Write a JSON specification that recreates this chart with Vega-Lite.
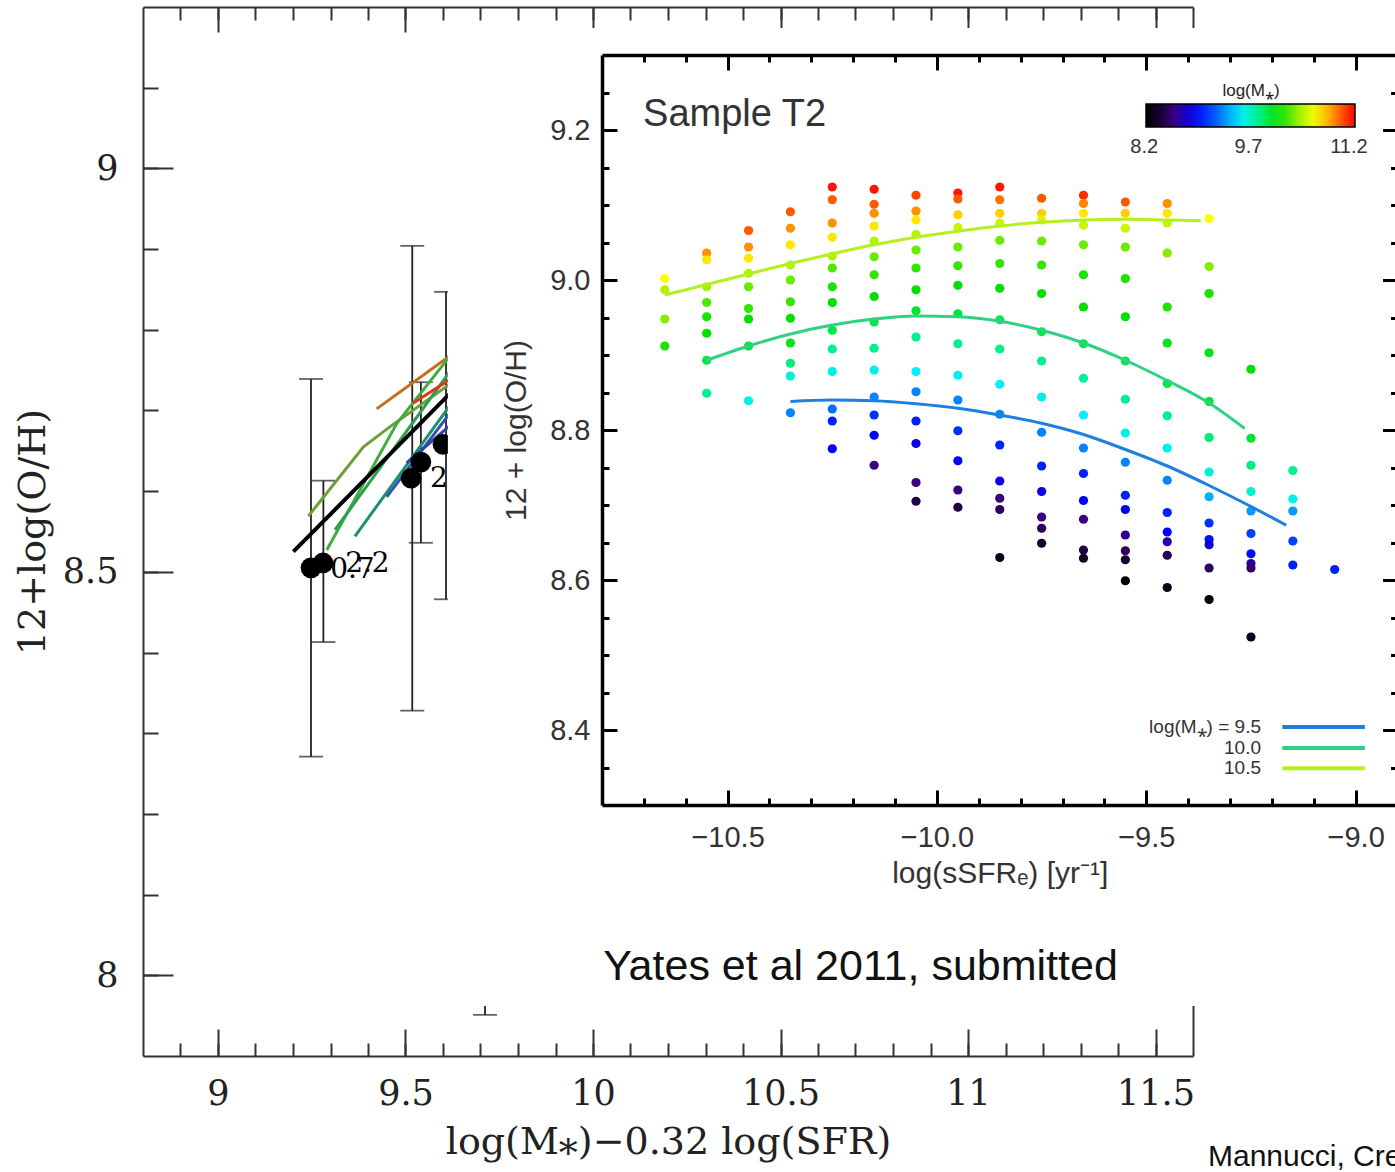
{
  "$schema": "https://vega.github.io/schema/vega-lite/v6.json",
  "width": 1050,
  "height": 1049,
  "autosize": "none",
  "padding": {"left": 143, "top": 7, "right": 202, "bottom": 116},
  "background": "white",
  "config": {
    "view": {"stroke": null},
    "axis": {"grid": false, "labelFlush": false, "labelOverlap": false},
    "legend": {"padding": 0}
  },
  "resolve": {
    "scale": {"x": "independent", "y": "independent", "color": "independent"},
    "axis": {"x": "independent", "y": "independent"}
  },
  "datasets": {
    "eb": [
      {"x": 9.248, "lo": 8.271, "hi": 8.739},
      {"x": 9.281, "lo": 8.413, "hi": 8.613},
      {"x": 9.518, "lo": 8.328, "hi": 8.904},
      {"x": 9.541, "lo": 8.536, "hi": 8.735},
      {"x": 9.608, "lo": 8.466, "hi": 8.847},
      {"x": 9.712, "lo": 7.951, "hi": 8.9}
    ],
    "op": [
      {"x": 9.248, "y": 8.505},
      {"x": 9.28, "y": 8.511},
      {"x": 9.515, "y": 8.616},
      {"x": 9.541, "y": 8.636},
      {"x": 9.6, "y": 8.658}
    ],
    "otr": [
      {"t": "orange", "x": 9.423, "y": 8.702}, {"t": "orange", "x": 9.64, "y": 8.775},
      {"t": "olive", "x": 9.241, "y": 8.569}, {"t": "olive", "x": 9.388, "y": 8.655}, {"t": "olive", "x": 9.459, "y": 8.68}, {"t": "olive", "x": 9.64, "y": 8.74},
      {"t": "green1", "x": 9.29, "y": 8.527}, {"t": "green1", "x": 9.477, "y": 8.684}, {"t": "green1", "x": 9.64, "y": 8.78},
      {"t": "green2", "x": 9.312, "y": 8.552}, {"t": "green2", "x": 9.64, "y": 8.762},
      {"t": "teal", "x": 9.365, "y": 8.544}, {"t": "teal", "x": 9.64, "y": 8.72},
      {"t": "blue1", "x": 9.45, "y": 8.593}, {"t": "blue1", "x": 9.64, "y": 8.71},
      {"t": "blue2", "x": 9.503, "y": 8.635}, {"t": "blue2", "x": 9.64, "y": 8.69},
      {"t": "red", "x": 9.52, "y": 8.709}, {"t": "red", "x": 9.64, "y": 8.745}
    ],
    "oblack": [
      {"x": 9.201, "y": 8.525}, {"x": 9.64, "y": 8.731}
    ],
    "ip": [
      {"s": -10.65, "z": 9.002, "m": 10.65}, {"s": -10.65, "z": 8.987, "m": 10.45}, {"s": -10.65, "z": 8.948, "m": 10.35}, {"s": -10.65, "z": 8.912, "m": 10.15},
      {"s": -10.55, "z": 9.036, "m": 10.88}, {"s": -10.55, "z": 9.027, "m": 10.7}, {"s": -10.55, "z": 8.991, "m": 10.4}, {"s": -10.55, "z": 8.97, "m": 10.25}, {"s": -10.55, "z": 8.951, "m": 10.15}, {"s": -10.55, "z": 8.929, "m": 10.1}, {"s": -10.55, "z": 8.893, "m": 9.95}, {"s": -10.55, "z": 8.849, "m": 9.8},
      {"s": -10.45, "z": 9.066, "m": 11.0}, {"s": -10.45, "z": 9.044, "m": 10.88}, {"s": -10.45, "z": 9.029, "m": 10.7}, {"s": -10.45, "z": 9.009, "m": 10.45}, {"s": -10.45, "z": 8.991, "m": 10.3}, {"s": -10.45, "z": 8.962, "m": 10.2}, {"s": -10.45, "z": 8.948, "m": 10.1}, {"s": -10.45, "z": 8.912, "m": 10.0}, {"s": -10.45, "z": 8.839, "m": 9.6},
      {"s": -10.35, "z": 9.091, "m": 11.0}, {"s": -10.35, "z": 9.069, "m": 10.88}, {"s": -10.35, "z": 9.047, "m": 10.7}, {"s": -10.35, "z": 9.02, "m": 10.45}, {"s": -10.35, "z": 9.0, "m": 10.3}, {"s": -10.35, "z": 8.971, "m": 10.2}, {"s": -10.35, "z": 8.949, "m": 10.1}, {"s": -10.35, "z": 8.916, "m": 10.05}, {"s": -10.35, "z": 8.889, "m": 9.85}, {"s": -10.35, "z": 8.872, "m": 9.65}, {"s": -10.35, "z": 8.823, "m": 9.3},
      {"s": -10.25, "z": 9.124, "m": 11.15}, {"s": -10.25, "z": 9.107, "m": 11.0}, {"s": -10.25, "z": 9.076, "m": 10.88}, {"s": -10.25, "z": 9.057, "m": 10.7}, {"s": -10.25, "z": 9.032, "m": 10.45}, {"s": -10.25, "z": 9.016, "m": 10.25}, {"s": -10.25, "z": 8.991, "m": 10.15}, {"s": -10.25, "z": 8.97, "m": 10.1}, {"s": -10.25, "z": 8.933, "m": 9.95}, {"s": -10.25, "z": 8.908, "m": 9.8}, {"s": -10.25, "z": 8.878, "m": 9.6}, {"s": -10.25, "z": 8.828, "m": 9.25}, {"s": -10.25, "z": 8.812, "m": 9.0}, {"s": -10.25, "z": 8.775, "m": 8.9},
      {"s": -10.15, "z": 9.121, "m": 11.15}, {"s": -10.15, "z": 9.101, "m": 11.0}, {"s": -10.15, "z": 9.089, "m": 10.88}, {"s": -10.15, "z": 9.072, "m": 10.7}, {"s": -10.15, "z": 9.052, "m": 10.45}, {"s": -10.15, "z": 9.031, "m": 10.3}, {"s": -10.15, "z": 9.007, "m": 10.2}, {"s": -10.15, "z": 8.978, "m": 10.1}, {"s": -10.15, "z": 8.944, "m": 9.95}, {"s": -10.15, "z": 8.909, "m": 9.8}, {"s": -10.15, "z": 8.88, "m": 9.6}, {"s": -10.15, "z": 8.844, "m": 9.3}, {"s": -10.15, "z": 8.82, "m": 9.05}, {"s": -10.15, "z": 8.793, "m": 8.9}, {"s": -10.15, "z": 8.753, "m": 8.6},
      {"s": -10.05, "z": 9.113, "m": 11.05}, {"s": -10.05, "z": 9.092, "m": 10.88}, {"s": -10.05, "z": 9.08, "m": 10.7}, {"s": -10.05, "z": 9.061, "m": 10.45}, {"s": -10.05, "z": 9.04, "m": 10.3}, {"s": -10.05, "z": 9.016, "m": 10.2}, {"s": -10.05, "z": 8.987, "m": 10.1}, {"s": -10.05, "z": 8.959, "m": 10.0}, {"s": -10.05, "z": 8.924, "m": 9.8}, {"s": -10.05, "z": 8.878, "m": 9.55}, {"s": -10.05, "z": 8.851, "m": 9.3}, {"s": -10.05, "z": 8.812, "m": 9.0}, {"s": -10.05, "z": 8.782, "m": 8.85}, {"s": -10.05, "z": 8.73, "m": 8.6}, {"s": -10.05, "z": 8.705, "m": 8.45},
      {"s": -9.95, "z": 9.116, "m": 11.15}, {"s": -9.95, "z": 9.108, "m": 11.0}, {"s": -9.95, "z": 9.087, "m": 10.75}, {"s": -9.95, "z": 9.07, "m": 10.5}, {"s": -9.95, "z": 9.044, "m": 10.3}, {"s": -9.95, "z": 9.019, "m": 10.2}, {"s": -9.95, "z": 8.993, "m": 10.1}, {"s": -9.95, "z": 8.955, "m": 10.0}, {"s": -9.95, "z": 8.915, "m": 9.8}, {"s": -9.95, "z": 8.873, "m": 9.6}, {"s": -9.95, "z": 8.84, "m": 9.3}, {"s": -9.95, "z": 8.799, "m": 9.05}, {"s": -9.95, "z": 8.759, "m": 8.9}, {"s": -9.95, "z": 8.72, "m": 8.6}, {"s": -9.95, "z": 8.697, "m": 8.45},
      {"s": -9.85, "z": 9.124, "m": 11.15}, {"s": -9.85, "z": 9.107, "m": 10.95}, {"s": -9.85, "z": 9.089, "m": 10.75}, {"s": -9.85, "z": 9.076, "m": 10.5}, {"s": -9.85, "z": 9.053, "m": 10.3}, {"s": -9.85, "z": 9.022, "m": 10.2}, {"s": -9.85, "z": 8.989, "m": 10.1}, {"s": -9.85, "z": 8.947, "m": 9.95}, {"s": -9.85, "z": 8.908, "m": 9.8}, {"s": -9.85, "z": 8.861, "m": 9.55}, {"s": -9.85, "z": 8.821, "m": 9.3}, {"s": -9.85, "z": 8.78, "m": 9.0}, {"s": -9.85, "z": 8.732, "m": 8.85}, {"s": -9.85, "z": 8.709, "m": 8.6}, {"s": -9.85, "z": 8.694, "m": 8.5}, {"s": -9.85, "z": 8.63, "m": 8.3},
      {"s": -9.75, "z": 9.109, "m": 11.0}, {"s": -9.75, "z": 9.089, "m": 10.75}, {"s": -9.75, "z": 9.08, "m": 10.55}, {"s": -9.75, "z": 9.052, "m": 10.3}, {"s": -9.75, "z": 9.02, "m": 10.2}, {"s": -9.75, "z": 8.982, "m": 10.1}, {"s": -9.75, "z": 8.931, "m": 9.95}, {"s": -9.75, "z": 8.892, "m": 9.8}, {"s": -9.75, "z": 8.844, "m": 9.6}, {"s": -9.75, "z": 8.797, "m": 9.3}, {"s": -9.75, "z": 8.752, "m": 9.0}, {"s": -9.75, "z": 8.718, "m": 8.85}, {"s": -9.75, "z": 8.684, "m": 8.6}, {"s": -9.75, "z": 8.669, "m": 8.5}, {"s": -9.75, "z": 8.649, "m": 8.35},
      {"s": -9.65, "z": 9.113, "m": 11.1}, {"s": -9.65, "z": 9.102, "m": 10.9}, {"s": -9.65, "z": 9.089, "m": 10.7}, {"s": -9.65, "z": 9.073, "m": 10.5}, {"s": -9.65, "z": 9.047, "m": 10.3}, {"s": -9.65, "z": 9.007, "m": 10.15}, {"s": -9.65, "z": 8.964, "m": 10.1}, {"s": -9.65, "z": 8.915, "m": 9.95}, {"s": -9.65, "z": 8.869, "m": 9.75}, {"s": -9.65, "z": 8.82, "m": 9.55}, {"s": -9.65, "z": 8.776, "m": 9.3}, {"s": -9.65, "z": 8.742, "m": 9.0}, {"s": -9.65, "z": 8.706, "m": 8.9}, {"s": -9.65, "z": 8.681, "m": 8.6}, {"s": -9.65, "z": 8.64, "m": 8.45}, {"s": -9.65, "z": 8.629, "m": 8.35},
      {"s": -9.55, "z": 9.104, "m": 11.0}, {"s": -9.55, "z": 9.089, "m": 10.75}, {"s": -9.55, "z": 9.069, "m": 10.5}, {"s": -9.55, "z": 9.044, "m": 10.3}, {"s": -9.55, "z": 9.002, "m": 10.15}, {"s": -9.55, "z": 8.951, "m": 10.1}, {"s": -9.55, "z": 8.892, "m": 9.95}, {"s": -9.55, "z": 8.841, "m": 9.8}, {"s": -9.55, "z": 8.796, "m": 9.6}, {"s": -9.55, "z": 8.757, "m": 9.3}, {"s": -9.55, "z": 8.713, "m": 9.0}, {"s": -9.55, "z": 8.694, "m": 8.9}, {"s": -9.55, "z": 8.66, "m": 8.65}, {"s": -9.55, "z": 8.639, "m": 8.5}, {"s": -9.55, "z": 8.627, "m": 8.4}, {"s": -9.55, "z": 8.599, "m": 8.2},
      {"s": -9.45, "z": 9.102, "m": 10.88}, {"s": -9.45, "z": 9.089, "m": 10.7}, {"s": -9.45, "z": 9.076, "m": 10.5}, {"s": -9.45, "z": 9.036, "m": 10.35}, {"s": -9.45, "z": 8.964, "m": 10.15}, {"s": -9.45, "z": 8.916, "m": 10.05}, {"s": -9.45, "z": 8.862, "m": 9.95}, {"s": -9.45, "z": 8.819, "m": 9.8}, {"s": -9.45, "z": 8.776, "m": 9.6}, {"s": -9.45, "z": 8.733, "m": 9.3}, {"s": -9.45, "z": 8.69, "m": 9.0}, {"s": -9.45, "z": 8.664, "m": 8.9}, {"s": -9.45, "z": 8.651, "m": 8.7}, {"s": -9.45, "z": 8.633, "m": 8.5}, {"s": -9.45, "z": 8.59, "m": 8.3},
      {"s": -9.35, "z": 9.082, "m": 10.65}, {"s": -9.35, "z": 9.018, "m": 10.35}, {"s": -9.35, "z": 8.982, "m": 10.15}, {"s": -9.35, "z": 8.903, "m": 10.05}, {"s": -9.35, "z": 8.838, "m": 10.0}, {"s": -9.35, "z": 8.79, "m": 9.85}, {"s": -9.35, "z": 8.744, "m": 9.65}, {"s": -9.35, "z": 8.711, "m": 9.4}, {"s": -9.35, "z": 8.676, "m": 9.05}, {"s": -9.35, "z": 8.654, "m": 8.95}, {"s": -9.35, "z": 8.647, "m": 8.8}, {"s": -9.35, "z": 8.616, "m": 8.5}, {"s": -9.35, "z": 8.574, "m": 8.25},
      {"s": -9.25, "z": 8.881, "m": 10.1}, {"s": -9.25, "z": 8.789, "m": 10.0}, {"s": -9.25, "z": 8.753, "m": 9.85}, {"s": -9.25, "z": 8.718, "m": 9.65}, {"s": -9.25, "z": 8.692, "m": 9.35}, {"s": -9.25, "z": 8.662, "m": 9.1}, {"s": -9.25, "z": 8.635, "m": 8.95}, {"s": -9.25, "z": 8.622, "m": 8.7}, {"s": -9.25, "z": 8.616, "m": 8.55}, {"s": -9.25, "z": 8.524, "m": 8.3},
      {"s": -9.15, "z": 8.746, "m": 9.8}, {"s": -9.15, "z": 8.708, "m": 9.6}, {"s": -9.15, "z": 8.692, "m": 9.35}, {"s": -9.15, "z": 8.652, "m": 9.1}, {"s": -9.15, "z": 8.62, "m": 9.0},
      {"s": -9.05, "z": 8.614, "m": 9.0}
    ],
    "fit": [
      {"f": "10.5", "s": -10.65, "z": 8.98}, {"f": "10.5", "s": -10.55, "z": 8.994}, {"f": "10.5", "s": -10.45, "z": 9.008}, {"f": "10.5", "s": -10.35, "z": 9.022}, {"f": "10.5", "s": -10.25, "z": 9.035}, {"f": "10.5", "s": -10.15, "z": 9.047}, {"f": "10.5", "s": -10.05, "z": 9.057}, {"f": "10.5", "s": -9.95, "z": 9.065}, {"f": "10.5", "s": -9.85, "z": 9.072}, {"f": "10.5", "s": -9.75, "z": 9.077}, {"f": "10.5", "s": -9.65, "z": 9.08}, {"f": "10.5", "s": -9.55, "z": 9.081}, {"f": "10.5", "s": -9.45, "z": 9.08}, {"f": "10.5", "s": -9.37, "z": 9.079},
      {"f": "10.0", "s": -10.55, "z": 8.893}, {"f": "10.0", "s": -10.45, "z": 8.912}, {"f": "10.0", "s": -10.35, "z": 8.928}, {"f": "10.0", "s": -10.25, "z": 8.94}, {"f": "10.0", "s": -10.15, "z": 8.948}, {"f": "10.0", "s": -10.05, "z": 8.952}, {"f": "10.0", "s": -9.95, "z": 8.951}, {"f": "10.0", "s": -9.85, "z": 8.945}, {"f": "10.0", "s": -9.75, "z": 8.933}, {"f": "10.0", "s": -9.65, "z": 8.916}, {"f": "10.0", "s": -9.55, "z": 8.893}, {"f": "10.0", "s": -9.45, "z": 8.866}, {"f": "10.0", "s": -9.35, "z": 8.836}, {"f": "10.0", "s": -9.265, "z": 8.802},
      {"f": "9.5", "s": -10.35, "z": 8.838}, {"f": "9.5", "s": -10.25, "z": 8.84}, {"f": "9.5", "s": -10.15, "z": 8.839}, {"f": "9.5", "s": -10.05, "z": 8.835}, {"f": "9.5", "s": -9.95, "z": 8.829}, {"f": "9.5", "s": -9.85, "z": 8.82}, {"f": "9.5", "s": -9.75, "z": 8.809}, {"f": "9.5", "s": -9.65, "z": 8.794}, {"f": "9.5", "s": -9.55, "z": 8.774}, {"f": "9.5", "s": -9.45, "z": 8.752}, {"f": "9.5", "s": -9.35, "z": 8.726}, {"f": "9.5", "s": -9.25, "z": 8.698}, {"f": "9.5", "s": -9.166, "z": 8.673}
    ],
    "leg": [
      {"f": "9.5", "label": "log(M⁎)  =  9.5", "s1": -9.175, "s2": -8.978, "tx": -9.226, "z": 8.404},
      {"f": "10.0", "label": "10.0", "s1": -9.175, "s2": -8.978, "tx": -9.226, "z": 8.376},
      {"f": "10.5", "label": "10.5", "s1": -9.175, "s2": -8.978, "tx": -9.226, "z": 8.349}
    ]
  },
  "layer": [
    {
      "data": {"name": "eb"},
      "mark": {"type": "rule", "color": "#222", "strokeWidth": 1.8},
      "encoding": {
        "x": {"field": "x", "type": "quantitative", "scale": {"domain": [8.8, 11.6], "nice": false, "zero": false},
          "axis": {"orient": "bottom", "values": [9, 9.5, 10, 10.5, 11, 11.5], "format": "~g", "tickSize": -27, "tickWidth": 2, "tickColor": "#333", "domainColor": "#333", "domainWidth": 2, "labelFont": "DejaVu Serif", "labelFontSize": 35, "labelColor": "#222", "labelPadding": 47, "title": "log(M⁎)−0.32 log(SFR)", "titleFont": "DejaVu Serif", "titleFontSize": 38, "titleFontWeight": "normal", "titleColor": "#222", "titlePadding": 12, "zindex": 0}},
        "y": {"field": "lo", "type": "quantitative", "scale": {"domain": [7.9, 9.2], "nice": false, "zero": false},
          "axis": {"orient": "left", "values": [8, 8.5, 9], "format": "~g", "tickSize": -30, "tickWidth": 2, "tickColor": "#333", "domainColor": "#333", "domainWidth": 2, "labelFont": "DejaVu Serif", "labelFontSize": 35, "labelColor": "#222", "labelPadding": 55, "title": "12+log(O/H)", "titleFont": "DejaVu Serif", "titleFontSize": 38, "titleFontWeight": "normal", "titleColor": "#222", "titlePadding": 10, "zindex": 0}},
        "y2": {"field": "hi"}
      }
    },
    {
      "data": {"name": "eb"},
      "mark": {"type": "tick", "orient": "horizontal", "color": "#222", "thickness": 1.8, "size": 24},
      "encoding": {
        "x": {"field": "x", "type": "quantitative", "scale": {"domain": [8.8, 11.6], "nice": false, "zero": false},
          "axis": {"orient": "bottom", "values": [8.9, 9.0, 9.1, 9.2, 9.3, 9.4, 9.5, 9.6, 9.7, 9.8, 9.9, 10.0, 10.1, 10.2, 10.3, 10.4, 10.5, 10.6, 10.7, 10.8, 10.9, 11.0, 11.1, 11.2, 11.3, 11.4, 11.5], "tickSize": -13, "tickWidth": 2, "tickColor": "#333", "domain": false, "labels": false, "title": null, "zindex": 0}},
        "y": {"field": "lo", "type": "quantitative", "scale": {"domain": [7.9, 9.2], "nice": false, "zero": false},
          "axis": {"orient": "left", "values": [8.0, 8.1, 8.2, 8.3, 8.4, 8.5, 8.6, 8.7, 8.8, 8.9, 9.0, 9.1], "tickSize": -15, "tickWidth": 2, "tickColor": "#333", "domain": false, "labels": false, "title": null, "zindex": 0}}
      }
    },
    {
      "data": {"name": "eb"},
      "mark": {"type": "tick", "orient": "horizontal", "color": "#222", "thickness": 1.8, "size": 24},
      "encoding": {
        "x": {"field": "x", "type": "quantitative", "scale": {"domain": [8.8, 11.6], "nice": false, "zero": false},
          "axis": {"orient": "top", "values": [9, 9.5, 10, 10.5, 11, 11.5], "tickSize": -25, "tickWidth": 2, "tickColor": "#333", "domainColor": "#333", "domainWidth": 2, "labels": false, "title": null, "zindex": 0}},
        "y": {"field": "hi", "type": "quantitative", "scale": {"domain": [7.9, 9.2], "nice": false, "zero": false},
          "axis": {"orient": "right", "values": [8, 8.5, 9], "tickSize": -30, "tickWidth": 2, "tickColor": "#333", "domainColor": "#333", "domainWidth": 2, "labels": false, "title": null, "zindex": 0}}
      }
    },
    {
      "data": {"name": "otr"},
      "mark": {"type": "line", "strokeWidth": 3},
      "encoding": {
        "x": {"field": "x", "type": "quantitative", "scale": {"domain": [8.8, 11.6], "nice": false, "zero": false},
          "axis": {"orient": "top", "values": [8.9, 9.0, 9.1, 9.2, 9.3, 9.4, 9.5, 9.6, 9.7, 9.8, 9.9, 10.0, 10.1, 10.2, 10.3, 10.4, 10.5, 10.6, 10.7, 10.8, 10.9, 11.0, 11.1, 11.2, 11.3, 11.4, 11.5], "tickSize": -13, "tickWidth": 2, "tickColor": "#333", "domain": false, "labels": false, "title": null, "zindex": 0}},
        "y": {"field": "y", "type": "quantitative", "scale": {"domain": [7.9, 9.2], "nice": false, "zero": false},
          "axis": {"orient": "right", "values": [8.0, 8.1, 8.2, 8.3, 8.4, 8.5, 8.6, 8.7, 8.8, 8.9, 9.0, 9.1], "tickSize": -15, "tickWidth": 2, "tickColor": "#333", "domain": false, "labels": false, "title": null, "zindex": 0}},
        "color": {"field": "t", "type": "nominal", "legend": null,
          "scale": {"domain": ["orange", "olive", "green1", "green2", "teal", "blue1", "blue2", "red"], "range": ["#c0701e", "#6f9f3a", "#3fae3f", "#2f9e4f", "#1f8f6f", "#3353b0", "#2f45a8", "#d83a20"]}}
      }
    },
    {
      "data": {"name": "oblack"},
      "mark": {"type": "line", "strokeWidth": 4, "color": "#000"},
      "encoding": {
        "x": {"field": "x", "type": "quantitative", "scale": {"domain": [8.8, 11.6], "nice": false, "zero": false}, "axis": null},
        "y": {"field": "y", "type": "quantitative", "scale": {"domain": [7.9, 9.2], "nice": false, "zero": false}, "axis": null}
      }
    },
    {
      "data": {"name": "op"},
      "mark": {"type": "circle", "size": 430, "color": "#000", "opacity": 1},
      "encoding": {
        "x": {"field": "x", "type": "quantitative", "scale": {"domain": [8.8, 11.6], "nice": false, "zero": false}, "axis": null},
        "y": {"field": "y", "type": "quantitative", "scale": {"domain": [7.9, 9.2], "nice": false, "zero": false}, "axis": null}
      }
    },
    {
      "data": {"values": [
        {"x": 9.299, "y": 8.492, "t": "0.7"},
        {"x": 9.339, "y": 8.5, "t": "2.2"},
        {"x": 9.565, "y": 8.605, "t": "2.2"}
      ]},
      "mark": {"type": "text", "align": "left", "baseline": "alphabetic", "font": "DejaVu Serif", "fontSize": 28, "color": "#000"},
      "encoding": {
        "x": {"field": "x", "type": "quantitative", "scale": {"domain": [8.8, 11.6], "nice": false, "zero": false}, "axis": null},
        "y": {"field": "y", "type": "quantitative", "scale": {"domain": [7.9, 9.2], "nice": false, "zero": false}, "axis": null},
        "text": {"field": "t"}
      }
    },
    {
      "data": {"values": [{"x1": 9.613, "x2": 12.4, "y1": 7.962, "y2": 9.174}]},
      "mark": {"type": "rect", "color": "#ffffff", "opacity": 1},
      "encoding": {
        "x": {"field": "x1", "type": "quantitative", "scale": {"domain": [8.8, 11.6], "nice": false, "zero": false}, "axis": null},
        "x2": {"field": "x2"},
        "y": {"field": "y1", "type": "quantitative", "scale": {"domain": [7.9, 9.2], "nice": false, "zero": false}, "axis": null},
        "y2": {"field": "y2"}
      }
    },
    {
      "data": {"values": [{"x": 10.027, "y": 7.9943, "t": "Yates et al 2011, submitted"}]},
      "mark": {"type": "text", "align": "left", "baseline": "alphabetic", "font": "Liberation Sans", "fontSize": 43, "color": "#111"},
      "encoding": {
        "x": {"field": "x", "type": "quantitative", "scale": {"domain": [8.8, 11.6], "nice": false, "zero": false}, "axis": null},
        "y": {"field": "y", "type": "quantitative", "scale": {"domain": [7.9, 9.2], "nice": false, "zero": false}, "axis": null},
        "text": {"field": "t"}
      }
    },
    {
      "data": {"values": [{"x": 11.64, "y": 7.775, "t": "Mannucci, Cresci et al. 2010"}]},
      "mark": {"type": "text", "align": "left", "baseline": "middle", "font": "Liberation Sans", "fontSize": 30, "color": "#111"},
      "encoding": {
        "x": {"field": "x", "type": "quantitative", "scale": {"domain": [8.8, 11.6], "nice": false, "zero": false}, "axis": null},
        "y": {"field": "y", "type": "quantitative", "scale": {"domain": [7.9, 9.2], "nice": false, "zero": false}, "axis": null},
        "text": {"field": "t"}
      }
    },
    {
      "data": {"name": "ip"},
      "mark": {"type": "circle", "size": 85, "opacity": 1},
      "encoding": {
        "x": {"field": "s", "type": "quantitative", "scale": {"domain": [-10.8, -8.9], "range": [459, 1254.5], "nice": false, "zero": false},
          "axis": {"orient": "bottom", "offset": -251, "values": [-10.5, -10, -9.5, -9], "labelExpr": "'−' + format(abs(datum.value), '.1f')", "tickSize": -15, "tickWidth": 3, "tickColor": "#000", "domainColor": "#000", "domainWidth": 3.5, "labelFont": "Liberation Sans", "labelFontSize": 29, "labelColor": "#333", "labelPadding": 33, "title": "log(sSFRₑ) [yr⁻¹]", "titleFont": "Liberation Sans", "titleFontSize": 30, "titleFontWeight": "normal", "titleColor": "#333", "titlePadding": 6, "zindex": 1}},
        "y": {"field": "z", "type": "quantitative", "scale": {"domain": [8.3, 9.3], "range": [798, 48], "nice": false, "zero": false},
          "axis": {"orient": "left", "offset": -459, "values": [8.4, 8.6, 8.8, 9.0, 9.2], "format": ".1f", "tickSize": -15, "tickWidth": 3, "tickColor": "#000", "domainColor": "#000", "domainWidth": 3.5, "labelFont": "Liberation Sans", "labelFontSize": 29, "labelColor": "#333", "labelPadding": 27, "title": "12 + log(O/H)", "titleFont": "Liberation Sans", "titleFontSize": 30, "titleFontWeight": "normal", "titleColor": "#333", "titlePadding": 18, "zindex": 1}},
        "color": {"field": "m", "type": "quantitative",
          "scale": {"domain": [8.2, 8.4, 8.6, 8.9, 9.25, 9.55, 9.8, 10.1, 10.4, 10.65, 10.88, 11.2], "range": ["#000000", "#1a0030", "#3a0080", "#0000ff", "#0070ff", "#00f0ff", "#00f090", "#00e000", "#a0f000", "#ffff00", "#ff9000", "#ff0000"], "interpolate": "rgb"},
          "legend": {"orient": "none", "legendX": 1003, "legendY": 76, "direction": "horizontal", "gradientLength": 209, "gradientThickness": 23, "title": "log(M⁎)", "titleFont": "Liberation Sans", "titleFontSize": 17, "titleFontWeight": "normal", "titleColor": "#222", "titleAnchor": "middle", "titlePadding": 4, "values": [8.2, 11.2], "labelExpr": "''", "labelOpacity": 0, "labelFontSize": 1, "gradientStrokeColor": "#000", "gradientStrokeWidth": 1.5}}
      }
    },
    {
      "data": {"values": [
        {"s": -9.505, "z": 9.177, "t": "8.2"},
        {"s": -9.256, "z": 9.177, "t": "9.7"},
        {"s": -9.016, "z": 9.177, "t": "11.2"}
      ]},
      "mark": {"type": "text", "align": "center", "baseline": "middle", "font": "Liberation Sans", "fontSize": 20, "color": "#333"},
      "encoding": {
        "x": {"field": "s", "type": "quantitative", "scale": {"domain": [-10.8, -8.9], "range": [459, 1254.5], "nice": false, "zero": false}, "axis": null},
        "y": {"field": "z", "type": "quantitative", "scale": {"domain": [8.3, 9.3], "range": [798, 48], "nice": false, "zero": false}, "axis": null},
        "text": {"field": "t"}
      }
    },
    {
      "data": {"name": "fit"},
      "mark": {"type": "line", "strokeWidth": 3, "interpolate": "monotone"},
      "encoding": {
        "x": {"field": "s", "type": "quantitative", "scale": {"domain": [-10.8, -8.9], "range": [459, 1254.5], "nice": false, "zero": false},
          "axis": {"orient": "bottom", "offset": -251, "values": [-10.7, -10.6, -10.5, -10.4, -10.3, -10.2, -10.1, -10.0, -9.9, -9.8, -9.7, -9.6, -9.5, -9.4, -9.3, -9.2, -9.1, -9.0], "tickSize": -7, "tickWidth": 3, "tickColor": "#000", "domain": false, "labels": false, "title": null, "zindex": 1}},
        "y": {"field": "z", "type": "quantitative", "scale": {"domain": [8.3, 9.3], "range": [798, 48], "nice": false, "zero": false},
          "axis": {"orient": "left", "offset": -459, "values": [8.35, 8.4, 8.45, 8.5, 8.55, 8.6, 8.65, 8.7, 8.75, 8.8, 8.85, 8.9, 8.95, 9.0, 9.05, 9.1, 9.15, 9.2, 9.25], "tickSize": -7, "tickWidth": 3, "tickColor": "#000", "domain": false, "labels": false, "title": null, "zindex": 1}},
        "color": {"field": "f", "type": "nominal", "legend": null,
          "scale": {"domain": ["9.5", "10.0", "10.5"], "range": ["#1f7fe0", "#2fd184", "#b4f01e"]}}
      }
    },
    {
      "data": {"name": "leg"},
      "mark": {"type": "rule", "strokeWidth": 4},
      "encoding": {
        "x": {"field": "s1", "type": "quantitative", "scale": {"domain": [-10.8, -8.9], "range": [459, 1254.5], "nice": false, "zero": false},
          "axis": {"orient": "top", "offset": -48, "values": [-10.5, -10, -9.5, -9], "tickSize": -15, "tickWidth": 3, "tickColor": "#000", "domainColor": "#000", "domainWidth": 3.5, "labels": false, "title": null, "zindex": 1}},
        "x2": {"field": "s2"},
        "y": {"field": "z", "type": "quantitative", "scale": {"domain": [8.3, 9.3], "range": [798, 48], "nice": false, "zero": false},
          "axis": {"orient": "right", "offset": 204.5, "values": [8.4, 8.6, 8.8, 9.0, 9.2], "tickSize": -15, "tickWidth": 3, "tickColor": "#000", "domainColor": "#000", "domainWidth": 3.5, "labels": false, "title": null, "zindex": 1}},
        "color": {"field": "f", "type": "nominal", "legend": null,
          "scale": {"domain": ["9.5", "10.0", "10.5"], "range": ["#1f7fe0", "#2fd184", "#b4f01e"]}}
      }
    },
    {
      "data": {"name": "leg"},
      "mark": {"type": "text", "align": "right", "baseline": "middle", "font": "Liberation Sans", "fontSize": 19, "color": "#333"},
      "encoding": {
        "x": {"field": "tx", "type": "quantitative", "scale": {"domain": [-10.8, -8.9], "range": [459, 1254.5], "nice": false, "zero": false},
          "axis": {"orient": "top", "offset": -48, "values": [-10.7, -10.6, -10.5, -10.4, -10.3, -10.2, -10.1, -10.0, -9.9, -9.8, -9.7, -9.6, -9.5, -9.4, -9.3, -9.2, -9.1, -9.0], "tickSize": -7, "tickWidth": 3, "tickColor": "#000", "domain": false, "labels": false, "title": null, "zindex": 1}},
        "y": {"field": "z", "type": "quantitative", "scale": {"domain": [8.3, 9.3], "range": [798, 48], "nice": false, "zero": false},
          "axis": {"orient": "right", "offset": 204.5, "values": [8.35, 8.4, 8.45, 8.5, 8.55, 8.6, 8.65, 8.7, 8.75, 8.8, 8.85, 8.9, 8.95, 9.0, 9.05, 9.1, 9.15, 9.2, 9.25], "tickSize": -7, "tickWidth": 3, "tickColor": "#000", "domain": false, "labels": false, "title": null, "zindex": 1}},
        "text": {"field": "label"}
      }
    },
    {
      "data": {"values": [{"s": -10.702, "z": 9.2053, "t": "Sample T2"}]},
      "mark": {"type": "text", "align": "left", "baseline": "alphabetic", "font": "Liberation Sans", "fontSize": 38, "color": "#333"},
      "encoding": {
        "x": {"field": "s", "type": "quantitative", "scale": {"domain": [-10.8, -8.9], "range": [459, 1254.5], "nice": false, "zero": false}, "axis": null},
        "y": {"field": "z", "type": "quantitative", "scale": {"domain": [8.3, 9.3], "range": [798, 48], "nice": false, "zero": false}, "axis": null},
        "text": {"field": "t"}
      }
    }
  ]
}
